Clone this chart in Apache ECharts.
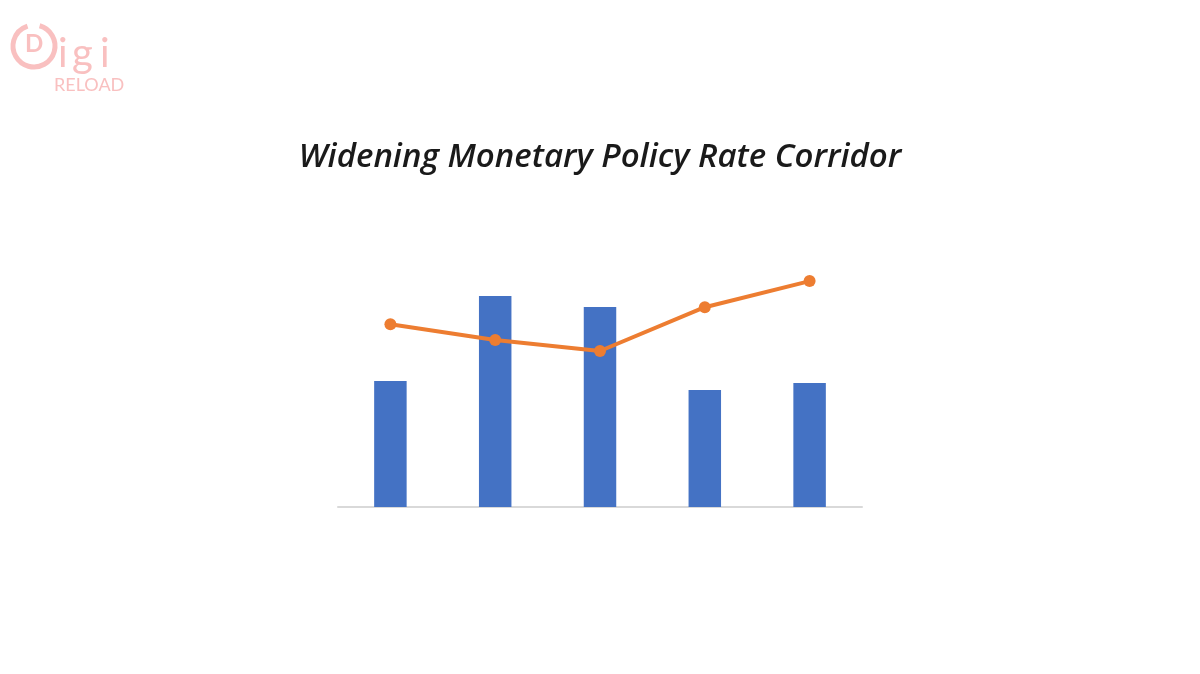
<!DOCTYPE html>
<html>
<head>
<meta charset="utf-8">
<script src="https://cdn.jsdelivr.net/npm/echarts@6/dist/echarts.min.js"></script>
<style>html,body{margin:0;padding:0;background:#fff}#c{width:1200px;height:674px}</style>
</head>
<body>
<div id="c"></div>
<script>
const categories = ['1', '2', '3', '4', '5'];
const barValues = [4.2, 7.03, 6.67, 3.9, 4.13];
const lineValues = [6.09, 5.57, 5.2, 6.66, 7.53];
const titleText = 'Widening Monetary Policy Rate Corridor';

const chart = echarts.init(document.getElementById('c'), null, {renderer: 'canvas'});
chart.setOption({
  backgroundColor: '#ffffff',
  animation: false,
  title: {
    text: titleText,
    left: 'center',
    top: 136,
    textStyle: {fontFamily: 'Open Sans', fontStyle: 'italic', fontWeight: 600, fontSize: 33, color: '#1a1a1a'}
  },
  grid: {left: 338, right: 338, top: 207, bottom: 167},
  xAxis: {
    type: 'category', data: categories,
    axisLine: {lineStyle: {color: '#d9d9d9', width: 2}},
    axisTick: {show: false}, axisLabel: {show: false}
  },
  yAxis: {
    type: 'value', min: 0, max: 10, interval: 2,
    axisLine: {show: false}, axisTick: {show: false}, axisLabel: {show: false},
    splitLine: {show: false}
  },
  series: [
    {type: 'bar', data: barValues, barWidth: '31%', itemStyle: {color: '#4472C4'}},
    {type: 'line', data: lineValues, symbol: 'circle', symbolSize: 12,
     lineStyle: {color: '#ED7D31', width: 4}, itemStyle: {color: '#ED7D31'}}
  ],
  graphic: [
    {type: 'arc', shape: {cx: 34, cy: 46, r: 21, startAngle: -1.3, endAngle: 4.4}, style: {stroke: '#f9c0c0', lineWidth: 5, fill: null}},
    {type: 'text', left: 25, top: 32, style: {text: 'D', font: 'bold 24px Lato', fill: '#f9c0c0'}},
    {type: 'text', left: 58, top: 34, style: {text: 'i', font: '40px Lato', fill: '#f9c0c0'}},
    {type: 'text', left: 72, top: 34, style: {text: 'g', font: '40px Lato', fill: '#f9c0c0'}},
    {type: 'text', left: 100, top: 34, style: {text: 'i', font: '40px Lato', fill: '#f9c0c0'}},
    {type: 'text', left: 54, top: 76, style: {text: 'RELOAD', font: '18px Lato', fill: '#f9c0c0'}}
  ]
});
</script>
</body>
</html>
